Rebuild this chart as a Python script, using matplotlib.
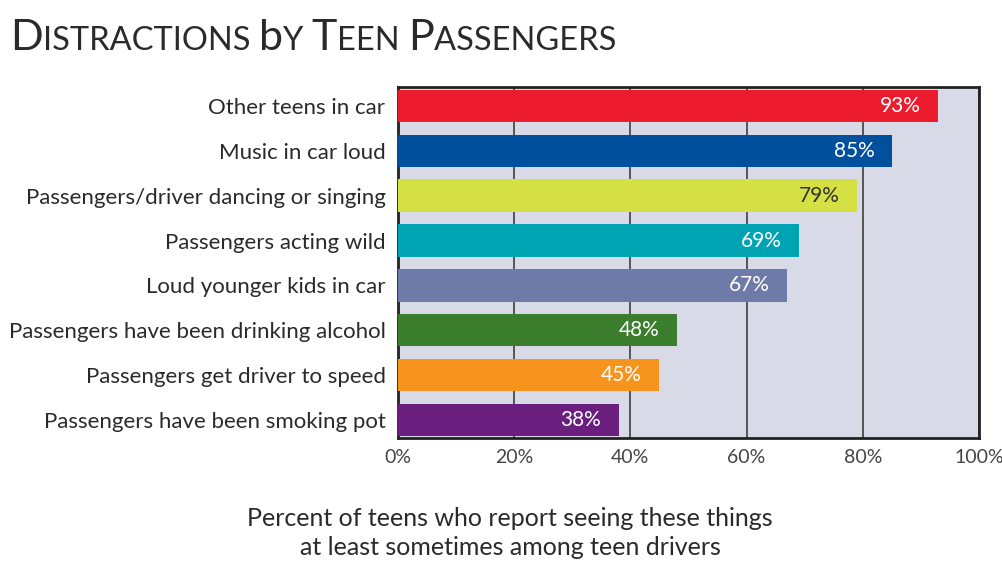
import matplotlib
matplotlib.use("Agg")
import matplotlib.pyplot as plt

categories = [
    "Other teens in car",
    "Music in car loud",
    "Passengers/driver dancing or singing",
    "Passengers acting wild",
    "Loud younger kids in car",
    "Passengers have been drinking alcohol",
    "Passengers get driver to speed",
    "Passengers have been smoking pot",
]
values = [93, 85, 79, 69, 67, 48, 45, 38]
colors = ["#ec1c2e", "#00509e", "#d4e043", "#00a3b2",
          "#6e7aa8", "#3a7d2c", "#f7941d", "#6a1f7f"]
label_colors = ["white", "white", "#333333", "white",
                "white", "white", "white", "white"]
xticks = [0, 20, 40, 60, 80, 100]
title = "Distractions by Teen Passengers"
subtitle = "Percent of teens who report seeing these things\nat least sometimes among teen drivers"

font = "Lato"
text_gray = "#2a2a2a"

fig = plt.figure(figsize=(10.02, 5.62), dpi=100, facecolor="white")
ax = fig.add_axes([398 / 1002, 1 - 438 / 562, 581 / 1002, 351 / 562])
ax.set_facecolor("#d9dae7")

ypos = list(range(len(categories)))
ax.barh(ypos, values, height=0.72, color=colors, zorder=3)
for y, v, c in zip(ypos, values, label_colors):
    ax.text(v - 3, y, f"{v}%", ha="right", va="center", color=c,
            fontsize=15, family=font, zorder=4)

ax.set_xlim(0, 100)
ax.set_ylim(7.4, -0.42)
ax.set_yticks(ypos)
ax.set_yticklabels(categories, fontsize=16, family=font, color=text_gray)
ax.set_xticks(xticks)
ax.set_xticklabels([f"{t}%" for t in xticks], fontsize=14, family=font, color="#444444")
ax.tick_params(length=0, pad=8)
ax.tick_params(axis="y", pad=9)
ax.grid(axis="x", color="#555555", linewidth=1.4, zorder=1)
for s in ax.spines.values():
    s.set_linewidth(2)
    s.set_color("#222222")

# title in small caps: large capitals for word starts, smaller for the rest
renderer = fig.canvas.get_renderer()
x = 10
for word in title.split(" "):
    for txt, sz in [(word[0], 31), (word[1:].upper() + " ", 23.5)]:
        t = fig.text(x / 1002, 1 - 50 / 562, txt, fontsize=sz, family=font,
                     color=text_gray, va="baseline", ha="left")
        x = t.get_window_extent(renderer).x1

fig.text(510 / 1002, 1 - 533 / 562, subtitle, ha="center", va="center",
         fontsize=18, family=font, color=text_gray, linespacing=1.35)

plt.savefig("out.png", dpi=100)
